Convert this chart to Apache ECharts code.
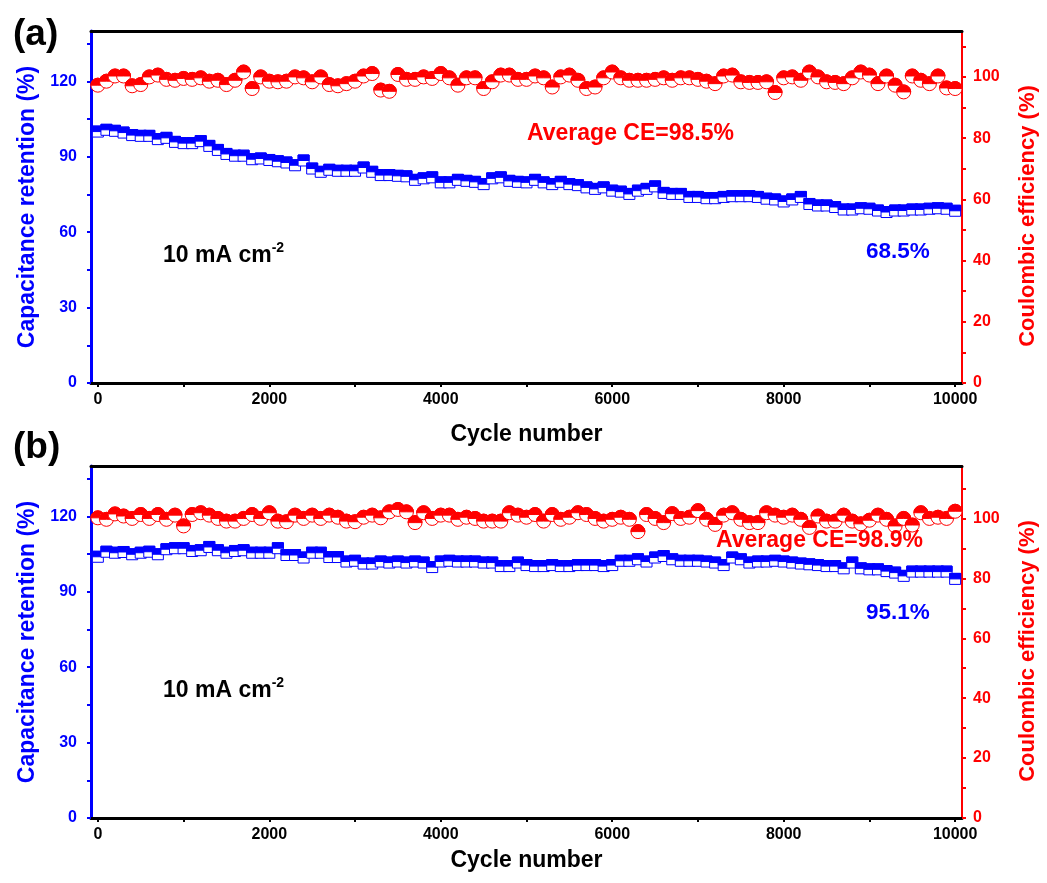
<!DOCTYPE html>
<html>
<head>
<meta charset="utf-8">
<script src="https://cdn.jsdelivr.net/npm/echarts@6/dist/echarts.min.js"></script>
<style>
  html, body { margin: 0; padding: 0; background: #fff; }
  #chart { width: 1047px; height: 883px; }
</style>
</head>
<body>
<div id="chart"></div>
<script>
// Cycle numbers shared by both panels
const cycles = [
  0, 100, 200, 300, 400, 500, 600, 700, 800, 900,
  1000, 1100, 1200, 1300, 1400, 1500, 1600, 1700, 1800, 1900,
  2000, 2100, 2200, 2300, 2400, 2500, 2600, 2700, 2800, 2900,
  3000, 3100, 3200, 3300, 3400, 3500, 3600, 3700, 3800, 3900,
  4000, 4100, 4200, 4300, 4400, 4500, 4600, 4700, 4800, 4900,
  5000, 5100, 5200, 5300, 5400, 5500, 5600, 5700, 5800, 5900,
  6000, 6100, 6200, 6300, 6400, 6500, 6600, 6700, 6800, 6900,
  7000, 7100, 7200, 7300, 7400, 7500, 7600, 7700, 7800, 7900,
  8000, 8100, 8200, 8300, 8400, 8500, 8600, 8700, 8800, 8900,
  9000, 9100, 9200, 9300, 9400, 9500, 9600, 9700, 9800, 9900,
  10000
];

// Panel (a): capacitance retention (%)
const retentionA = [
  100.0, 100.7, 100.3, 99.6, 98.6, 98.3, 98.3, 97.0, 97.5, 95.9,
  95.4, 95.4, 96.2, 94.3, 92.7, 91.1, 90.4, 90.4, 89.0, 89.3,
  88.7, 88.2, 87.7, 86.6, 88.5, 85.3, 84.0, 84.8, 84.4, 84.4,
  84.4, 85.7, 84.0, 82.7, 82.7, 82.4, 82.2, 80.8, 81.4, 81.8,
  79.8, 79.8, 80.8, 80.4, 80.0, 79.1, 81.4, 81.8, 80.4, 80.0,
  79.8, 80.8, 79.8, 79.1, 80.0, 79.1, 78.7, 77.8, 77.2, 77.8,
  76.5, 76.1, 75.2, 76.5, 77.2, 78.2, 75.6, 75.2, 75.2, 74.0,
  74.0, 73.5, 73.5, 74.0, 74.3, 74.3, 74.3, 74.0, 73.3, 73.0,
  72.2, 73.0, 74.0, 71.2, 70.6, 70.6, 70.0, 69.0, 69.0, 69.5,
  69.3, 68.6, 68.0, 68.6, 68.6, 69.0, 69.0, 69.3, 69.5, 69.3,
  68.5
];

// Panel (a): coulombic efficiency (%)
const efficiencyA = [
  97.3, 98.6, 100.3, 100.3, 97.1, 97.5, 100.0, 100.6, 99.2, 98.9,
  99.5, 99.2, 99.7, 98.6, 98.9, 97.5, 98.9, 101.6, 96.2, 100.0,
  98.6, 98.4, 98.6, 100.0, 99.7, 98.4, 100.0, 97.5, 97.1, 97.8,
  98.6, 100.3, 101.1, 95.7, 95.3, 100.8, 99.2, 99.2, 100.0, 99.5,
  101.1, 99.7, 97.3, 99.7, 99.7, 96.2, 98.4, 100.6, 100.6, 99.2,
  99.2, 100.3, 99.7, 96.7, 100.0, 100.6, 98.9, 96.2, 96.7, 99.7,
  101.6, 99.7, 98.9, 98.9, 98.9, 99.2, 99.7, 98.9, 99.7, 99.7,
  99.2, 98.6, 97.8, 100.3, 100.6, 98.4, 98.2, 98.2, 98.4, 94.9,
  99.7, 100.0, 98.9, 101.6, 100.0, 98.4, 98.2, 97.8, 99.7, 101.6,
  100.6, 97.8, 100.3, 97.3, 95.1, 100.3, 98.9, 97.8, 100.3, 96.4,
  96.2
];

// Panel (b): capacitance retention (%)
const retentionB = [
  103.9, 105.9, 105.5, 105.8, 104.9, 105.5, 105.9, 104.9, 106.9, 107.3,
  107.3, 106.2, 106.5, 107.8, 106.5, 105.5, 106.2, 106.5, 105.5, 105.5,
  105.5, 107.3, 104.6, 104.6, 103.6, 105.5, 105.5, 103.8, 103.8, 102.0,
  102.3, 101.2, 101.2, 102.0, 101.6, 102.0, 101.6, 102.0, 101.6, 99.8,
  102.0, 102.3, 102.0, 102.0, 102.0, 101.6, 101.6, 100.2, 100.2, 101.6,
  100.6, 100.2, 100.2, 100.6, 100.2, 100.2, 100.6, 100.6, 100.6, 100.2,
  100.6, 102.3, 102.3, 102.9, 102.0, 103.6, 104.2, 102.9, 102.3, 102.3,
  102.3, 102.0, 101.6, 100.6, 103.6, 102.9, 101.6, 102.0, 102.0, 102.3,
  102.0, 101.6, 101.2, 100.9, 100.6, 100.2, 100.2, 99.3, 101.6, 99.3,
  98.9, 98.9, 98.2, 97.6, 96.3, 98.0, 98.0, 98.0, 98.0, 98.0,
  95.1
];

// Panel (b): coulombic efficiency (%)
const efficiencyB = [
  100.2, 99.7, 101.5, 100.8, 100.0, 101.3, 100.0, 101.3, 99.7, 101.1,
  97.5, 101.3, 101.9, 101.1, 100.0, 99.1, 99.1, 100.0, 101.3, 100.0,
  101.9, 99.1, 98.9, 101.1, 100.0, 101.1, 100.0, 101.1, 100.4, 99.1,
  98.9, 100.4, 101.1, 100.2, 102.2, 103.0, 102.2, 98.6, 101.9, 100.0,
  101.1, 101.1, 99.7, 100.4, 100.0, 99.1, 99.1, 99.1, 101.9, 101.1,
  100.4, 101.3, 99.1, 101.3, 99.7, 100.4, 101.9, 101.3, 100.0, 99.1,
  99.7, 100.4, 99.7, 95.6, 101.3, 100.0, 98.6, 101.6, 100.0, 100.4,
  102.6, 99.7, 98.0, 101.1, 101.9, 99.7, 98.6, 98.6, 101.9, 101.1,
  100.4, 101.1, 99.7, 97.0, 100.8, 99.1, 99.1, 101.1, 99.1, 98.2,
  99.4, 101.1, 99.7, 97.5, 100.0, 97.8, 101.9, 100.0, 100.4, 100.0,
  102.4
];

// Axis ticks and labels
const xTicks = [0, 1000, 2000, 3000, 4000, 5000, 6000, 7000, 8000, 9000, 10000];
const xLabels = [0, 2000, 4000, 6000, 8000, 10000];
const leftTicks = [0, 15, 30, 45, 60, 75, 90, 105, 120, 135];
const leftLabels = [0, 30, 60, 90, 120];
const rightTicks = [0, 10, 20, 30, 40, 50, 60, 70, 80, 90, 100, 110];
const rightLabels = [0, 20, 40, 60, 80, 100];

const BLUE = '#0000ff';
const RED = '#ff0000';
const SANS = '"Liberation Sans", Arial, Helvetica, sans-serif';
const plain = v => String(v);

const pairs = (xs, ys) => xs.map((x, i) => [x, ys[i]]);

// Half-filled square: open square with the upper half filled
function halfSquare(params, api) {
  const p = api.coord([api.value(0), api.value(1)]);
  const s = 11;
  return {
    type: 'group',
    children: [
      { type: 'rect', shape: { x: p[0] - s / 2, y: p[1] - s / 2, width: s, height: s },
        style: { fill: '#fff', stroke: BLUE, lineWidth: 1 } },
      { type: 'rect', shape: { x: p[0] - s / 2, y: p[1] - s / 2, width: s, height: s / 2 },
        style: { fill: BLUE, stroke: BLUE, lineWidth: 1 } }
    ]
  };
}

// Half-filled circle: open circle with the upper half filled
function halfCircle(params, api) {
  const p = api.coord([api.value(0), api.value(1)]);
  const r = 7;
  return {
    type: 'group',
    children: [
      { type: 'circle', shape: { cx: p[0], cy: p[1], r: r },
        style: { fill: '#fff', stroke: RED, lineWidth: 1 } },
      { type: 'sector', shape: { cx: p[0], cy: p[1], r0: 0, r: r, startAngle: Math.PI, endAngle: Math.PI * 2, clockwise: true },
        style: { fill: RED, stroke: RED, lineWidth: 1 } }
    ]
  };
}

const grids = [
  { left: 91, right: 84, top: 31, height: 352 },
  { left: 91, right: 84, top: 466, height: 352 }
];

function xAxisFor(gi, gap) {
  return {
    type: 'value', gridIndex: gi, position: 'bottom', min: -80, max: 10080,
    name: 'Cycle number', nameLocation: 'middle', nameGap: gap,
    nameTextStyle: { fontFamily: SANS, fontWeight: 'bold', fontSize: 23, color: '#000' },
    axisLine: { onZero: false, lineStyle: { color: '#000', width: 3 } },
    axisTick: { inside: false, length: 4, lineStyle: { color: '#000', width: 2 }, customValues: xTicks },
    axisLabel: { customValues: xLabels, formatter: plain, fontFamily: SANS, fontWeight: 'bold', fontSize: 16, color: '#000', margin: 9 },
    splitLine: { show: false }
  };
}

function frameAxisFor(gi) {
  return {
    type: 'value', gridIndex: gi, position: 'top', min: -80, max: 10080,
    axisLine: { onZero: false, lineStyle: { color: '#000', width: 3 } },
    axisTick: { show: false }, axisLabel: { show: false }, splitLine: { show: false }
  };
}

function leftAxisFor(gi) {
  return {
    type: 'value', gridIndex: gi, position: 'left', min: 0, max: 140,
    name: 'Capacitance retention (%)', nameLocation: 'middle', nameGap: 49, nameRotate: 90,
    nameTextStyle: { fontFamily: SANS, fontWeight: 'bold', fontSize: 23, color: BLUE },
    axisLine: { show: true, onZero: false, lineStyle: { color: BLUE, width: 3 } },
    axisTick: { show: true, length: 4, lineStyle: { color: BLUE, width: 2 }, customValues: leftTicks },
    axisLabel: { customValues: leftLabels, formatter: plain, fontFamily: SANS, fontWeight: 'bold', fontSize: 16, color: BLUE, margin: 14 },
    splitLine: { show: false }
  };
}

function rightAxisFor(gi, max) {
  return {
    type: 'value', gridIndex: gi, position: 'right', min: 0, max: max,
    name: 'Coulombic efficiency (%)', nameLocation: 'middle', nameGap: 55, nameRotate: 90,
    nameTextStyle: { fontFamily: SANS, fontWeight: 'bold', fontSize: 22, color: RED, padding: [0, 18, 0, 0] },
    axisLine: { show: true, onZero: false, lineStyle: { color: RED, width: 2 } },
    axisTick: { show: true, length: 4, lineStyle: { color: RED, width: 2 }, customValues: rightTicks },
    axisLabel: { customValues: rightLabels, formatter: plain, fontFamily: SANS, fontWeight: 'bold', fontSize: 16, color: RED, margin: 11 },
    splitLine: { show: false }
  };
}

function textEl(x, y, text, size, color) {
  return { type: 'text', left: x, top: y, z: 100,
    style: { text: text, fill: color, font: 'bold ' + size + 'px ' + SANS } };
}

function currentLabel(x, y) {
  return { type: 'text', left: x, top: y, z: 100,
    style: {
      text: '{m|10 mA cm}{s|-2}',
      rich: {
        m: { fontFamily: SANS, fontWeight: 'bold', fontSize: 23, fill: '#000', verticalAlign: 'bottom', lineHeight: 26 },
        s: { fontFamily: SANS, fontWeight: 'bold', fontSize: 14, fill: '#000', verticalAlign: 'top', lineHeight: 26, padding: [0, 0, 14, 0] }
      }
    } };
}

const option = {
  animation: false,
  backgroundColor: '#fff',
  grid: grids.map(g => Object.assign({ show: false }, g)),
  xAxis: [xAxisFor(0, 40), frameAxisFor(0), xAxisFor(1, 31), frameAxisFor(1)],
  yAxis: [leftAxisFor(0), rightAxisFor(0, 115), leftAxisFor(1), rightAxisFor(1, 117.5)],
  series: [
    { type: 'custom', name: 'Retention (a)', xAxisIndex: 0, yAxisIndex: 0, renderItem: halfSquare, data: pairs(cycles, retentionA), clip: false },
    { type: 'custom', name: 'CE (a)', xAxisIndex: 0, yAxisIndex: 1, renderItem: halfCircle, data: pairs(cycles, efficiencyA), clip: false },
    { type: 'custom', name: 'Retention (b)', xAxisIndex: 2, yAxisIndex: 2, renderItem: halfSquare, data: pairs(cycles, retentionB), clip: false },
    { type: 'custom', name: 'CE (b)', xAxisIndex: 2, yAxisIndex: 3, renderItem: halfCircle, data: pairs(cycles, efficiencyB), clip: false }
  ],
  graphic: [
    textEl(13, 16, '(a)', 37, '#000'),
    textEl(13, 429, '(b)', 37, '#000'),
    textEl(527, 122, 'Average CE=98.5%', 23, RED),
    textEl(866, 240, '68.5%', 22.5, BLUE),
    currentLabel(163, 241),
    textEl(716, 529, 'Average CE=98.9%', 23, RED),
    textEl(866, 601, '95.1%', 22.5, BLUE),
    currentLabel(163, 676)
  ]
};

const chart = echarts.init(document.getElementById('chart'), null, { renderer: 'canvas' });
chart.setOption(option);
</script>
</body>
</html>
